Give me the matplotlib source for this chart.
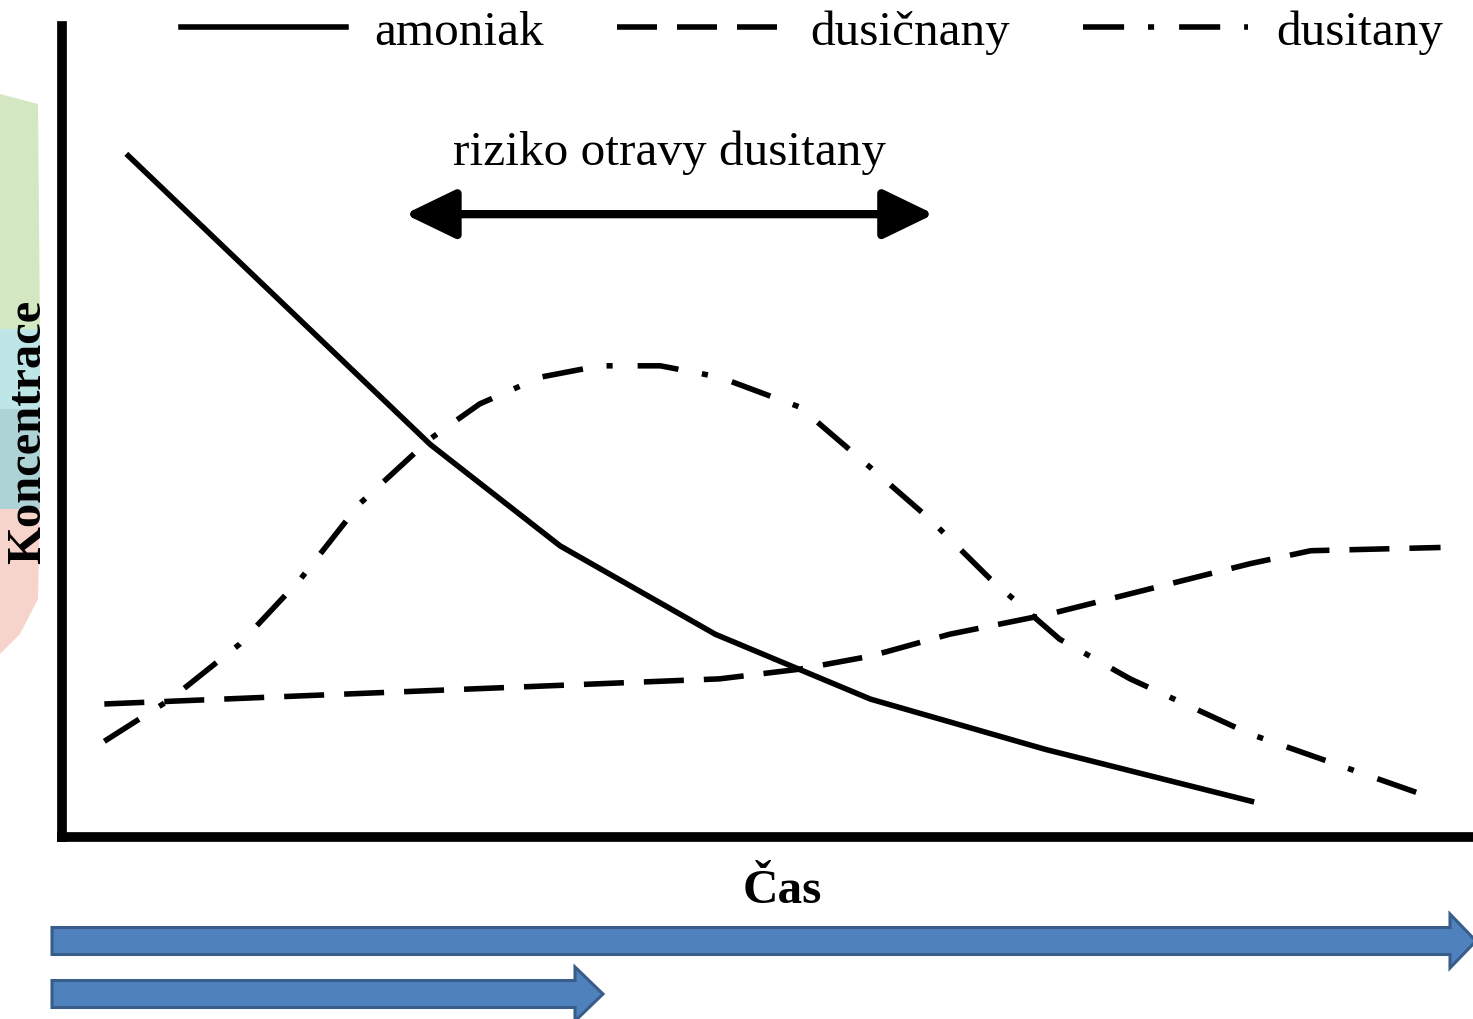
import numpy as np
import matplotlib
matplotlib.use("Agg")
import matplotlib.pyplot as plt
from matplotlib.patches import Polygon

plt.rcParams['font.family'] = ['Liberation Serif', 'DejaVu Serif']

# values (time and concentration, 0..100)
t_amoniak = [4.7, 26.1, 35.3, 46.3, 57.3, 69.7, 84.3]
c_amoniak = [84.0, 48.4, 35.9, 25.0, 17.0, 10.8, 4.4]

t_dusicnany = [3.0, 16.9, 35.3, 46.6, 52.3, 57.3, 62.9, 70.0, 77.1, 84.2, 88.5, 97.7]
c_dusicnany = [16.4, 17.4, 18.7, 19.5, 20.7, 22.3, 25.0, 27.5, 30.6, 33.7, 35.3, 35.7]

t_dusitany = [3.0, 7.7, 12.6, 16.9, 21.1, 26.1, 29.6, 33.9, 38.1, 42.4, 46.6,
              52.3, 56.6, 61.5, 65.8, 70.7, 75.7, 84.2, 97.3]
c_dusitany = [11.8, 17.0, 23.8, 31.8, 41.1, 49.1, 53.4, 56.7, 58.1, 58.1, 56.7,
              53.0, 46.6, 39.2, 31.8, 24.4, 19.5, 12.7, 4.7]

riziko_od, riziko_do = 24.3, 61.8
riziko_y = 76.8

W, H = 1473, 1020
fig = plt.figure(figsize=(W / 100, H / 100), dpi=100)

# decorative overlay in pixel space (background scraps, blue arrows)
deco = fig.add_axes([0, 0, 1, 1])
deco.set_xlim(0, W)
deco.set_ylim(H, 0)
deco.axis('off')

deco.add_patch(Polygon([(0, 95), (38, 105), (40, 330), (0, 330)], closed=True,
                       fc='#d3e8c2', ec='none'))
deco.add_patch(Polygon([(0, 330), (40, 330), (40, 410), (0, 410)], closed=True,
                       fc='#bfe6e6', ec='none'))
deco.add_patch(Polygon([(0, 410), (40, 410), (40, 510), (0, 510)], closed=True,
                       fc='#aed3d6', ec='none'))
deco.add_patch(Polygon([(0, 510), (40, 510), (38, 600), (20, 635), (0, 655)], closed=True,
                       fc='#f6d3cb', ec='none'))

def block_arrow(x0, x1, yc, half, head_half, head_len):
    pts = [(x0, yc - half), (x1 - head_len, yc - half), (x1 - head_len, yc - head_half),
           (x1, yc), (x1 - head_len, yc + head_half), (x1 - head_len, yc + half),
           (x0, yc + half)]
    deco.add_patch(Polygon(pts, closed=True, fc='#4f81bd', ec='#385d8a', lw=2.2,
                           joinstyle='miter'))

block_arrow(52, 1476, 942, 13.5, 27, 26)
block_arrow(52, 603, 995, 13.5, 27, 28)

# main chart
ax = fig.add_axes([62 / W, 1 - 838 / H, (W - 62) / W, (838 - 27) / H])
ax.set_xlim(0, 100)
ax.set_ylim(0, 100)
ax.patch.set_alpha(0)
for s in ['top', 'right']:
    ax.spines[s].set_visible(False)
for s in ['left', 'bottom']:
    ax.spines[s].set_linewidth(7)
ax.set_xticks([])
ax.set_yticks([])

lw = 4.0
ax.plot(t_amoniak, c_amoniak, color='black', lw=lw, solid_joinstyle='round',
        label='amoniak')
ax.plot(t_dusicnany, c_dusicnany, color='black', lw=lw, linestyle=(0, (7.2, 3.6)),
        label='dusičnany')
ax.plot(t_dusitany, c_dusitany, color='black', lw=lw,
        linestyle=(0, (7.4, 4.3, 1.1, 4.5)), label='dusitany')

ax.annotate('', xy=(riziko_od, riziko_y), xytext=(riziko_do, riziko_y),
            arrowprops=dict(arrowstyle='<|-|>,head_length=3.1,head_width=1.5',
                            color='black', lw=6.0, shrinkA=0, shrinkB=0))
ax.text((riziko_od + riziko_do) / 2, riziko_y + 4.9, 'riziko otravy dusitany',
        ha='center', va='bottom', fontsize=35.5)

fig.text(28 / W, 1 - 432 / H, 'Koncentrace', rotation=90, ha='center',
         va='center', fontsize=35, fontweight='bold')
fig.text(782 / W, 1 - 891 / H, 'Čas', ha='center', va='center',
         fontsize=35.5, fontweight='bold')

ax.legend(loc='center', bbox_to_anchor=(812 / W, 1 - 33 / H),
          bbox_transform=fig.transFigure, ncol=3, frameon=False, fontsize=35.5,
          handlelength=3.35, handletextpad=0.57, columnspacing=1.48,
          borderpad=0, borderaxespad=0)

fig.savefig('out.png', dpi=100)
